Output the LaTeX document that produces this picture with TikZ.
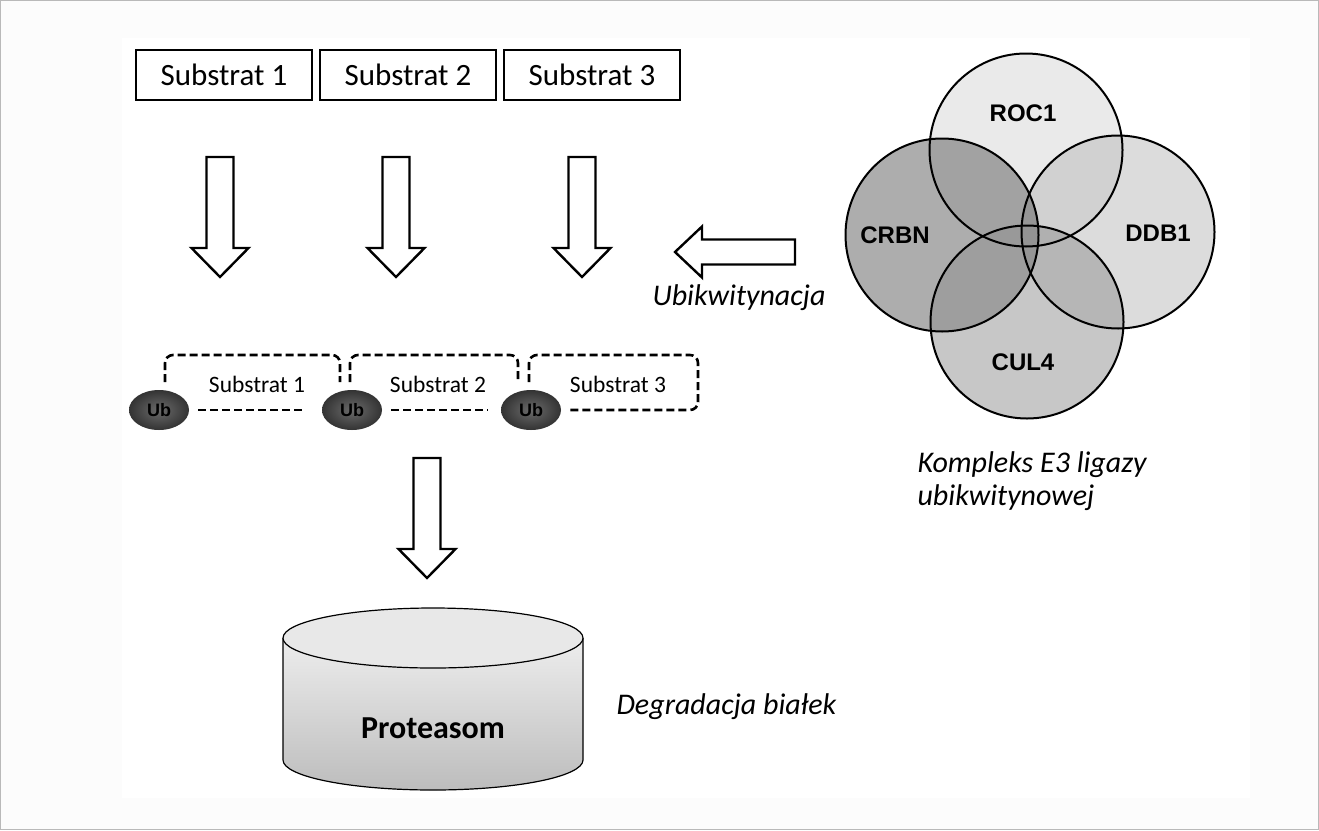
\documentclass[tikz,border=0pt]{standalone}
\usepackage{fontspec}
\setmainfont{Carlito}
\newfontfamily\vennfont{Liberation Sans}
\usetikzlibrary{positioning,shapes.geometric}

\tikzset{
  down arr/.pic={\draw[block arrow] (-13.5,0) -- (-13.5,91) -- (-28.5,91) -- (0,120)
      -- (28.5,91) -- (13.5,91) -- (13.5,0) -- cycle;},
  left arr/.pic={\draw[block arrow] (0,-12.5) -- (-93,-12.5) -- (-93,-25.5) -- (-120,0)
      -- (-93,25.5) -- (-93,12.5) -- (0,12.5) -- cycle;}
}

\begin{document}
\begin{tikzpicture}[x=1pt,y=-1pt,node distance=8pt,
    sub box/.style={draw,line width=2.6pt,minimum width=176pt,minimum height=50pt,
                    outer sep=0pt,font=\fontsize{31}{36}\selectfont},
    ub node/.style={ellipse,minimum width=60pt,minimum height=40pt,inner sep=0pt,
                    inner color=black!58,outer color=black!80,
                    font=\vennfont\bfseries\fontsize{18}{20}\selectfont},
    sub text/.style={font=\fontsize{23.5}{28}\selectfont},
    dash line/.style={dash pattern=on 8pt off 4pt,line width=2.6pt,rounded corners=8pt},
    venn/.style={circle,minimum size=193pt,inner sep=0pt,outer sep=0pt},
    venn label/.style={font=\vennfont\bfseries\fontsize{24}{28}\selectfont},
    note/.style={font=\itshape\fontsize{30}{33}\selectfont,align=left},
    block arrow/.style={draw,line width=2.4pt,fill=white,line join=miter}]

\useasboundingbox (0,0) rectangle (1319,830);
\fill[black!1] (0,0) rectangle (1319,830);
\fill[white] (122,38) rectangle (1250,798);
\draw[gray!55,line width=1pt] (0.5,0.5) rectangle (1318.5,829.5);

\node[sub box] (s1) at (224,75) {Substrat 1};
\node[sub box] (s2) [right=of s1] {Substrat 2};
\node[sub box] (s3) [right=of s2] {Substrat 3};

\pic at (220,157) {down arr};
\pic at (396,157) {down arr};
\pic at (582,157) {down arr};
\pic at (427,458) {down arr};
\pic at (795,252) {left arr};

\node[note,anchor=west] (ubi) at (649,298) {Ubikwitynacja};

\node[ub node] (ub1) at (159,410) {Ub};
\node[ub node] (ub2) at (352,410) {Ub};
\node[ub node] (ub3) at (531,410) {Ub};
\node[sub text] (t1) at (257,384) {Substrat 1};
\node[sub text] (t2) at (438,384) {Substrat 2};
\node[sub text] (t3) at (618,384) {Substrat 3};

\draw[dash line] (165,382) -- (165,355) -- (340,355) -- (340,382);
\draw[dash line] ([xshift=9pt]ub1.east) -- (306,410);
\draw[dash line] (350,382) -- (350,355) -- (518,355) -- (518,382);
\draw[dash line] ([xshift=9pt]ub2.east) -- (488,410);
\draw[dash line] (529,382) -- (529,355) -- (698,355) -- (698,410) -- ([xshift=9pt]ub3.east);

\node[venn,fill=black!16,fill opacity=0.5] (roc) at (1026,150) {};
\node[venn,fill=black!27,fill opacity=0.5] (ddb) at (1118,232) {};
\node[venn,fill=black!64,fill opacity=0.5] (crbn) at (942,235) {};
\node[venn,fill=black!43,fill opacity=0.5] (cul) at (1027,322) {};
\foreach \c in {roc,ddb,crbn,cul}
  \draw[line width=2pt] (\c) circle[radius=96.5];
\node[venn label] at (1023,113) {ROC1};
\node[venn label] at (1158,233) {DDB1};
\node[venn label] at (895,235) {CRBN};
\node[venn label] at (1023,362) {CUL4};

\node[note,anchor=west] (e3) at (914,481) {Kompleks E3 ligazy\\ubikwitynowej};

\shade[top color=black!7,bottom color=black!26]
  (283,638) -- (283,760) arc[start angle=180,end angle=0,x radius=150,y radius=30]
  -- (583,638) -- cycle;
\draw[line width=1.2pt]
  (283,638) -- (283,760) arc[start angle=180,end angle=0,x radius=150,y radius=30]
  -- (583,638);
\draw[line width=1.2pt,fill=black!9] (433,638) ellipse[x radius=150,y radius=30];
\node[font=\bfseries\fontsize{32}{38}\selectfont] (prot) at (433,728) {Proteasom};

\node[note,anchor=west] (deg) at (613,707) {Degradacja białek};

\end{tikzpicture}
\end{document}
